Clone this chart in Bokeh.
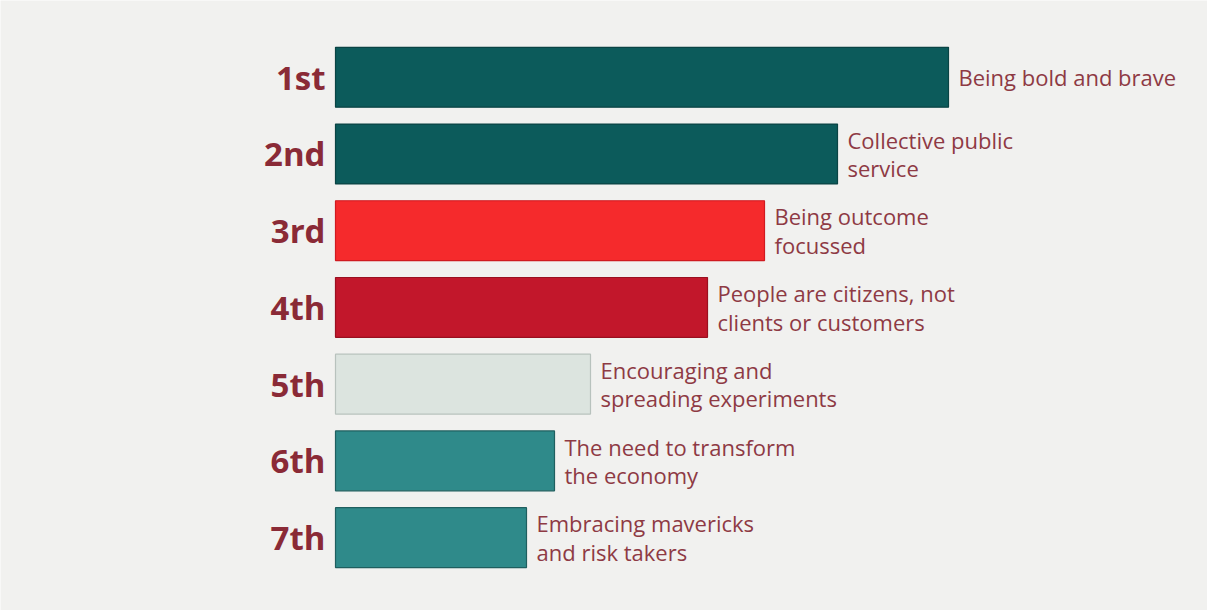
from bokeh.plotting import figure
from bokeh.models import ColumnDataSource, Range1d
from bokeh.core.properties import value
from bokeh.embed import file_html
from bokeh.resources import INLINE

ranks = ["1st", "2nd", "3rd", "4th", "5th", "6th", "7th"]
labels = ["Being bold and brave", "Collective public\nservice", "Being outcome\nfocussed",
          "People are citizens, not\nclients or customers", "Encouraging and\nspreading experiments",
          "The need to transform\nthe economy", "Embracing mavericks\nand risk takers"]
values = [613, 502, 429, 372, 255, 219, 191]
colors = ["#0c5b5b", "#0c5b5b", "#f52a2c", "#c2172b", "#dce4df", "#2f8a8a", "#2f8a8a"]
lines = ["#0a4444", "#0a4444", "#d01a20", "#9a1020", "#b8c2bd", "#1f5f5f", "#1f5f5f"]

pos = list(range(1, len(ranks) + 1))
src = ColumnDataSource(dict(pos=pos, val=values, rank=ranks, label=labels,
                            color=colors, line=lines,
                            lx=[v + 10 for v in values]))

p = figure(width=1207, height=610, output_backend="svg", toolbar_location=None,
           x_range=Range1d(-335, 872), y_range=Range1d(7.95, 0.0),
           min_border=0, background_fill_color="#f1f1ef", border_fill_color="#f1f1ef",
           outline_line_color=None)
p.axis.visible = False
p.grid.visible = False

p.hbar(y="pos", left=0, right="val", height=0.78, fill_color="color", line_color="line",
       line_width=1.2, source=src)
p.text(x=-10, y="pos", text="rank", source=src, text_align="right", text_baseline="middle",
       text_font=value("Open Sans"), text_font_style="bold", text_font_size="33px", text_color="#8a2a36")
p.text(x="lx", y="pos", text="label", source=src, text_align="left", text_baseline="middle",
       text_font=value("Open Sans"), text_font_size="22px", text_color="#8e3a44", text_line_height=0.95)

open("out.html", "w").write(file_html(p, INLINE))
